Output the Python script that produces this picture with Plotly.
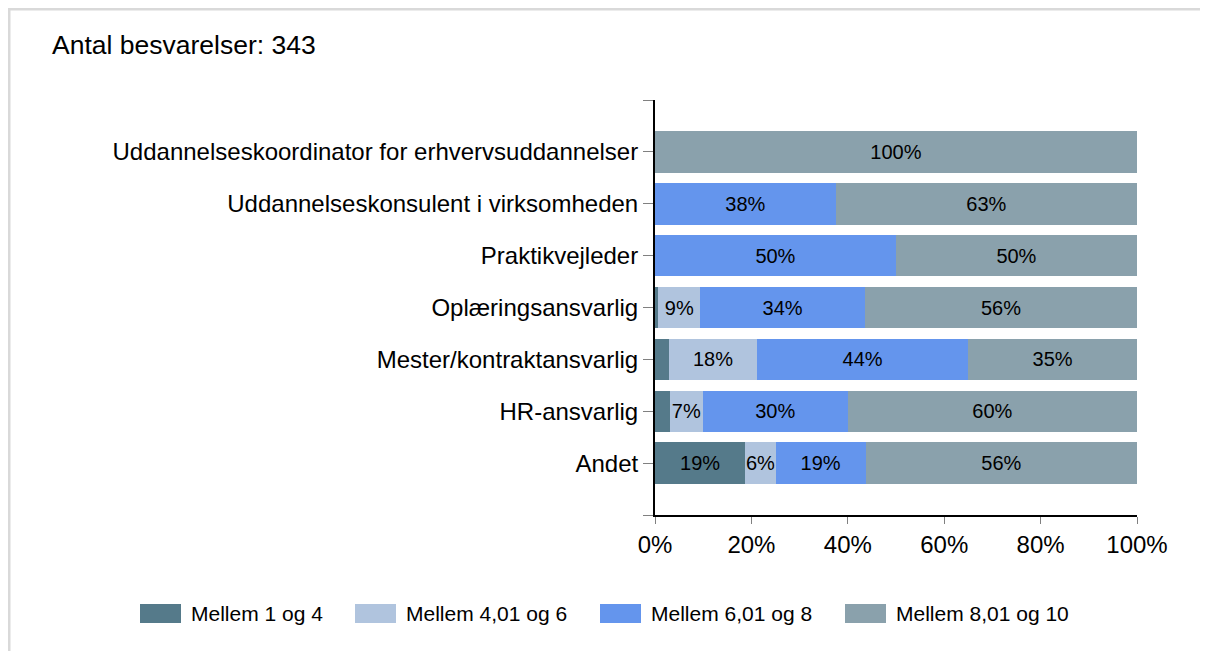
import plotly.graph_objects as go

# ---------------- data ----------------
categories = [
    "Uddannelseskoordinator for erhvervsuddannelser",
    "Uddannelseskonsulent i virksomheden",
    "Praktikvejleder",
    "Oplæringsansvarlig",
    "Mester/kontraktansvarlig",
    "HR-ansvarlig",
    "Andet",
]
series_names = ["Mellem 1 og 4", "Mellem 4,01 og 6", "Mellem 6,01 og 8", "Mellem 8,01 og 10"]
mellem_1_4 = [0, 0, 0, 0.7, 2.9, 3.1, 18.75]
mellem_4_6 = [0, 0, 0, 8.7, 18.3, 6.8, 6.25]
mellem_6_8 = [0, 37.5, 50, 34.2, 43.8, 30.1, 18.75]
mellem_8_10 = [100, 62.5, 50, 56.4, 35.0, 60.0, 56.25]
x_tick_vals = [0, 20, 40, 60, 80, 100]
x_tick_labels = ["0%", "20%", "40%", "60%", "80%", "100%"]
title_text = "Antal besvarelser: 343"

# ---------------- style ----------------
colors = ["#557A8A", "#B0C4DE", "#6495ED", "#8AA1AC"]
FONT = "Liberation Sans, Arial, sans-serif"
W, H = 1208, 651
OFF = 8  # page offset of the figure in the browser window
# plot area in window pixels
L, R, T, B = 655, 1137, 100, 515


def px_x(px):
    return (px - L) / (R - L)


def px_y(py):
    return (B - py) / (B - T)


def label(v):
    return f"{int(v + 0.5)}%" if v >= 5 else ""


series = [mellem_1_4, mellem_4_6, mellem_6_8, mellem_8_10]
n = len(categories)
positions = list(range(n))

fig = go.Figure()
for name, vals, col in zip(series_names, series, colors):
    fig.add_trace(go.Bar(
        y=positions, x=vals, orientation="h", name=name, width=0.8,
        marker=dict(color=col, line=dict(width=0)),
        text=[label(v) for v in vals],
        textposition="inside", insidetextanchor="middle", textangle=0,
        constraintext="none",
        textfont=dict(size=20, color="black", family=FONT),
        showlegend=False,
    ))

shapes = []
annotations = []
# outer light frame (top and left)
shapes.append(dict(type="line", xref="paper", yref="paper",
                   x0=px_x(OFF), x1=px_x(W + 20), y0=px_y(OFF + 1), y1=px_y(OFF + 1),
                   line=dict(color="#D9D9D9", width=3)))
shapes.append(dict(type="line", xref="paper", yref="paper",
                   x0=px_x(OFF + 1), x1=px_x(OFF + 1), y0=px_y(OFF), y1=px_y(H + 20),
                   line=dict(color="#D9D9D9", width=3)))

# title
annotations.append(dict(text=title_text, xref="paper", yref="paper",
                        x=px_x(50), y=px_y(45), xanchor="left", yanchor="middle",
                        showarrow=False, font=dict(size=26.5, color="black", family=FONT)))

# manual legend
legend_x = [140, 355, 600, 845]
for name, col, lx in zip(series_names, colors, legend_x):
    shapes.append(dict(type="rect", xref="paper", yref="paper",
                       x0=px_x(lx), x1=px_x(lx + 41), y0=px_y(623), y1=px_y(604),
                       fillcolor=col, line=dict(width=0)))
    annotations.append(dict(text=name, xref="paper", yref="paper",
                            x=px_x(lx + 49), y=px_y(613), xanchor="left", yanchor="middle",
                            showarrow=False, font=dict(size=21, color="black", family=FONT)))

fig.update_layout(
    barmode="stack",
    width=W, height=H,
    margin=dict(l=L - OFF, r=W - (R - OFF), t=T - OFF, b=H - (B - OFF), pad=0),
    paper_bgcolor="white", plot_bgcolor="white",
    font=dict(family=FONT, color="black"),
    shapes=shapes, annotations=annotations,
    showlegend=False,
    xaxis=dict(range=[0, 100], tickvals=x_tick_vals, ticktext=x_tick_labels,
               showgrid=False, zeroline=False, showline=True, linecolor="black",
               linewidth=2, ticks="outside", ticklen=7, tickcolor="#808080",
               tickfont=dict(size=24, color="black", family=FONT)),
    yaxis=dict(range=[n, -1], tickvals=list(range(-1, n + 1)),
               ticktext=[""] + categories + [""],
               showgrid=False, zeroline=False, showline=True, linecolor="black",
               linewidth=2, ticks="outside", ticklen=10, tickcolor="#808080",
               tickfont=dict(size=24, color="black", family=FONT)),
)

fig.write_html("out.html")
